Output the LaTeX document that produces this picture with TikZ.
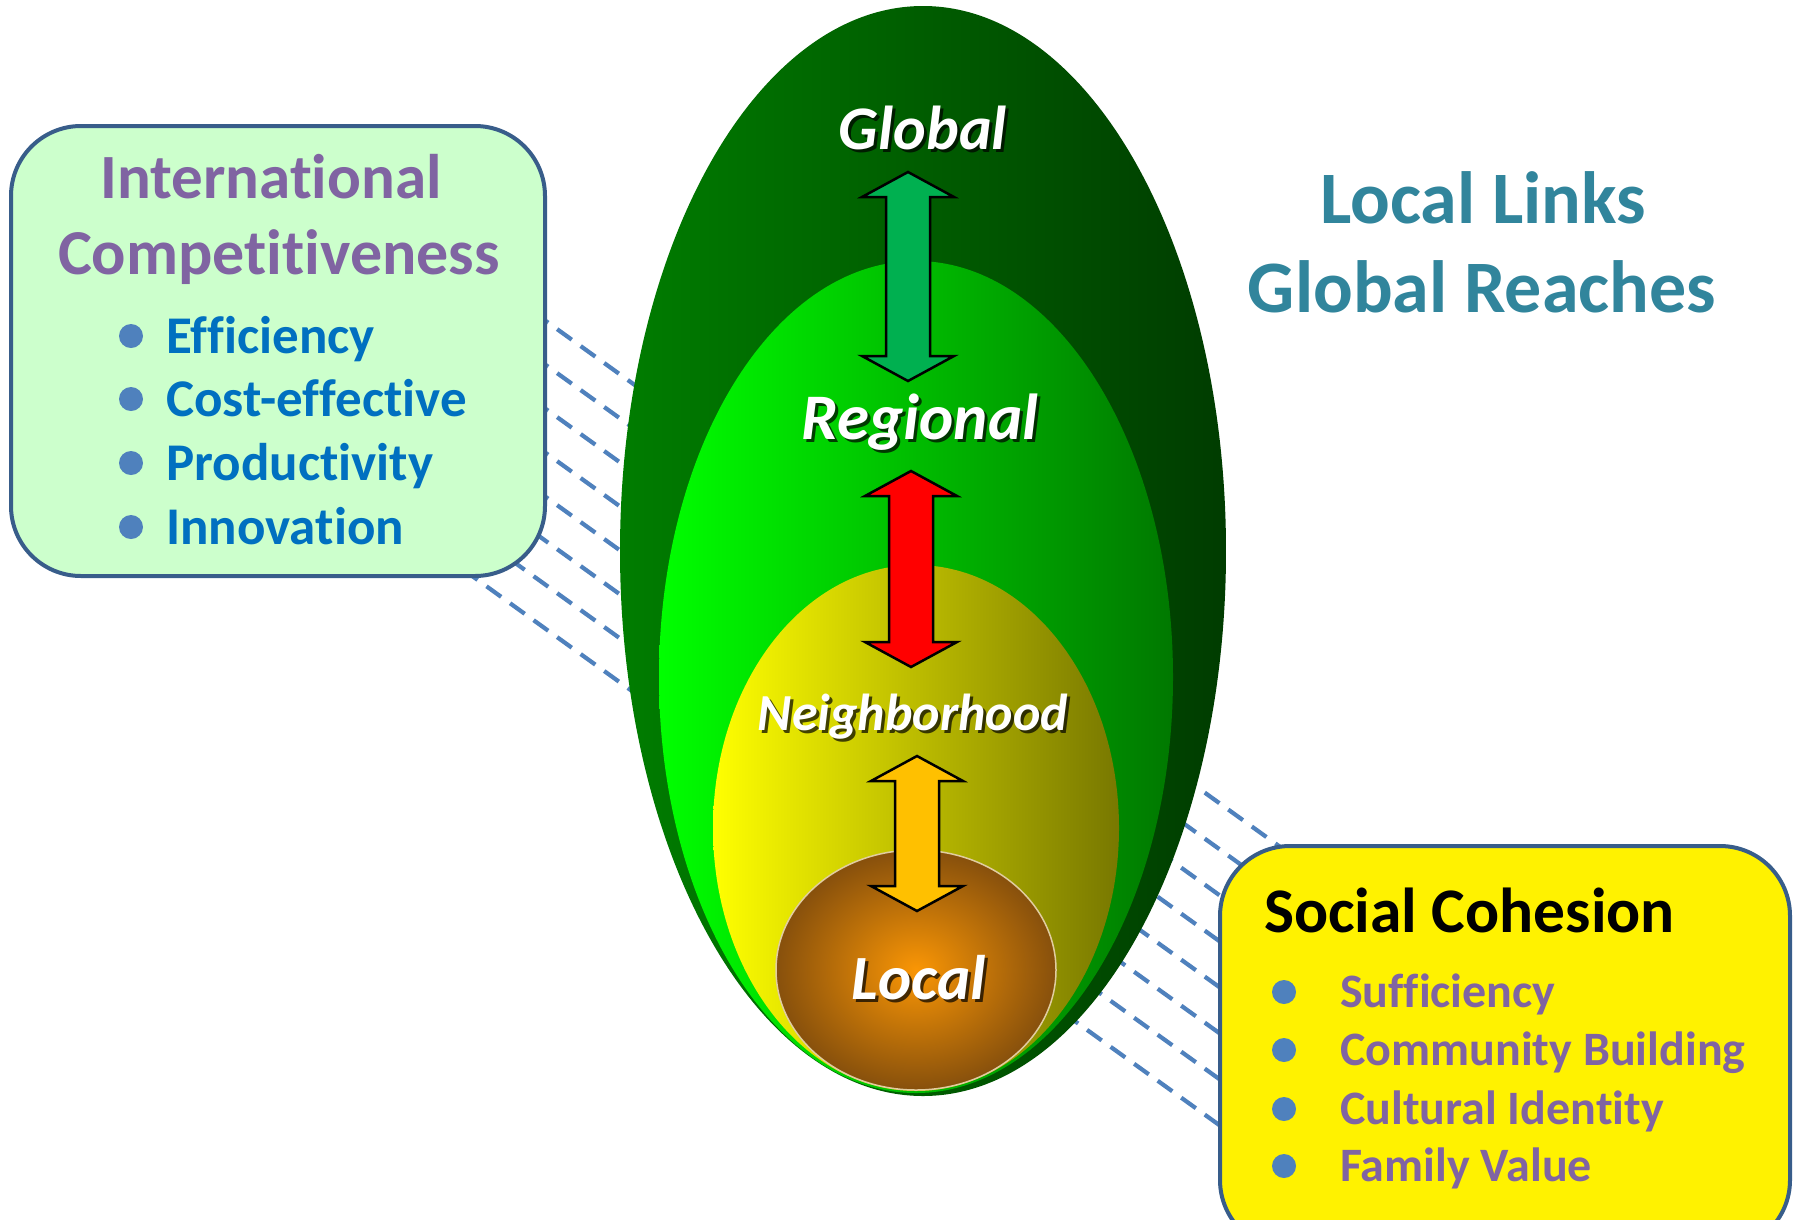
\documentclass[tikz,border=0pt]{standalone}
\usepackage{fontspec}
\setmainfont{Carlito}[Ligatures=NoCommon]
\definecolor{boxborder}{RGB}{56,93,138}
\definecolor{lgfill}{RGB}{204,255,204}
\definecolor{purpletxt}{RGB}{128,100,162}
\definecolor{bluetxt}{RGB}{0,112,192}
\definecolor{bulletblue}{RGB}{79,129,189}
\definecolor{tealtxt}{RGB}{49,133,156}
\definecolor{dashblue}{RGB}{79,129,189}
\definecolor{arrowgreen}{RGB}{0,176,80}
\definecolor{arroworange}{RGB}{255,192,0}
\definecolor{outerL}{RGB}{0,125,0}
\definecolor{outerR}{RGB}{0,60,0}
\definecolor{regL}{RGB}{0,255,0}
\definecolor{regR}{RGB}{0,120,0}
\definecolor{nbL}{RGB}{255,255,0}
\definecolor{nbR}{RGB}{120,120,0}
\definecolor{locIn}{RGB}{250,150,5}
\definecolor{locOut}{RGB}{135,80,12}
\definecolor{locEdge}{RGB}{225,205,160}
\newcommand\setfs[1]{\fontsize{#1}{#1}\selectfont}
\newcommand\dblarrow[4]{% cx, top, bottom, colour
  \draw[arrowline, fill=#4]
    ({#1-46},{#2+25}) -- (#1,#2) -- ({#1+46},{#2+25}) -- ({#1+22},{#2+25})
    -- ({#1+22},{#3-25}) -- ({#1+46},{#3-25}) -- (#1,#3) -- ({#1-46},{#3-25})
    -- ({#1-22},{#3-25}) -- ({#1-22},{#2+25}) -- cycle;}
\tikzset{
  dashline/.style={draw=dashblue, line width=4.2pt, dash pattern=on 18pt off 11pt},
  infobox/.style={draw=boxborder, line width=4pt, rounded corners=70pt},
  arrowline/.style={draw=black, line width=2.5pt, line join=miter},
  lvl/.style={font=\bfseries\itshape, text=white, inner sep=0pt, anchor=base},
  lvlshadow/.style={font=\bfseries\itshape, text=black, opacity=0.7, inner sep=0pt, anchor=base},
  bullet/.style={circle, fill=bulletblue, minimum size=24pt, inner sep=0pt},
  itemL/.style={font=\setfs{53}\bfseries, text=bluetxt, inner sep=0pt, anchor=base west},
  itemR/.style={font=\setfs{48}\bfseries, text=purpletxt, inner sep=0pt, anchor=base west},
}
\begin{document}
\begin{tikzpicture}[x=1pt,y=-1pt]
\useasboundingbox (0,0) rectangle (1796,1219);
\clip (0,0) rectangle (1796,1219);
\fill[white] (0,0) rectangle (1796,1219);

% dashed hatching behind boxes and ellipse
\foreach \k in {0,...,7}{
  \coordinate (ls\k) at (463,{360+44*\k-137*0.72});
  \coordinate (le\k) at (720,{360+44*\k+120*0.72});
  \draw[dashline] (ls\k) -- (le\k);
  \coordinate (rs\k) at (1040,{800+46*\k-175*0.72});
  \coordinate (re\k) at (1320,{800+46*\k+105*0.72});
  \draw[dashline] (rs\k) -- (re\k);
}

% left box
\draw[infobox, fill=lgfill] (11,126) rectangle (545,576);
\node[font=\setfs{63}\bfseries, text=purpletxt, anchor=base, inner sep=0pt] (intl) at (271,198) {International};
\node[font=\setfs{64}\bfseries, text=purpletxt, anchor=base, inner sep=0pt] (comp) at (279,274) {Competitiveness};
\foreach \t/\y [count=\i] in {Efficiency/353,Cost-effective/416,Productivity/480,Innovation/544}{
  \node[bullet] (lb\i) at (131,{\y-17}) {};
  \node[itemL] (li\i) at (166,\y) {\t};
}

% right box
\draw[infobox, fill=yellow] (1220,846) rectangle (1790,1250);
\node[font=\setfs{63.5}\bfseries, text=black, anchor=base west, inner sep=0pt] (soc) at (1264,932) {Social Cohesion};
\foreach \t/\y [count=\i] in {Sufficiency/1007,Community Building/1065,Cultural Identity/1124,Family Value/1181}{
  \node[bullet] (rb\i) at (1284,{\y-15}) {};
  \node[itemR] (ri\i) at (1340,\y) {\t};
}

% title
\node[font=\setfs{74}\bfseries, text=tealtxt, anchor=base, inner sep=0pt] (t1) at (1483,223) {Local Links};
\node[font=\setfs{74}\bfseries, text=tealtxt, anchor=base, inner sep=0pt] (t2) at (1482,312) {Global Reaches};

% nested ellipses
\shade[left color=outerL, right color=outerR] (923,551) ellipse [x radius=303, y radius=545];
\shade[left color=regL, right color=regR] (916,677) ellipse [x radius=257, y radius=416];
\shade[left color=nbL, right color=nbR] (916,828) ellipse [x radius=203, y radius=263];
\shade[inner color=locIn, outer color=locOut, draw=locEdge, line width=1.5pt] (916,970) ellipse [x radius=140, y radius=120];

% arrows
\dblarrow{908}{172}{381}{arrowgreen}
\dblarrow{911}{471}{667}{red}
\dblarrow{917}{756}{911}{arroworange}

% level labels
\foreach \t/\x/\y/\s/\n in {Global/923/149/62/lg,Regional/920/439/65/lr,Neighborhood/913/730/52/ln,Local/919/999/63/ll}{
  \node[lvlshadow, font=\setfs{\s}\bfseries\itshape] (\n s) at ({\x+3},{\y+3}) {\t};
  \node[lvl, font=\setfs{\s}\bfseries\itshape] (\n) at (\x,\y) {\t};
}
\end{tikzpicture}
\end{document}
